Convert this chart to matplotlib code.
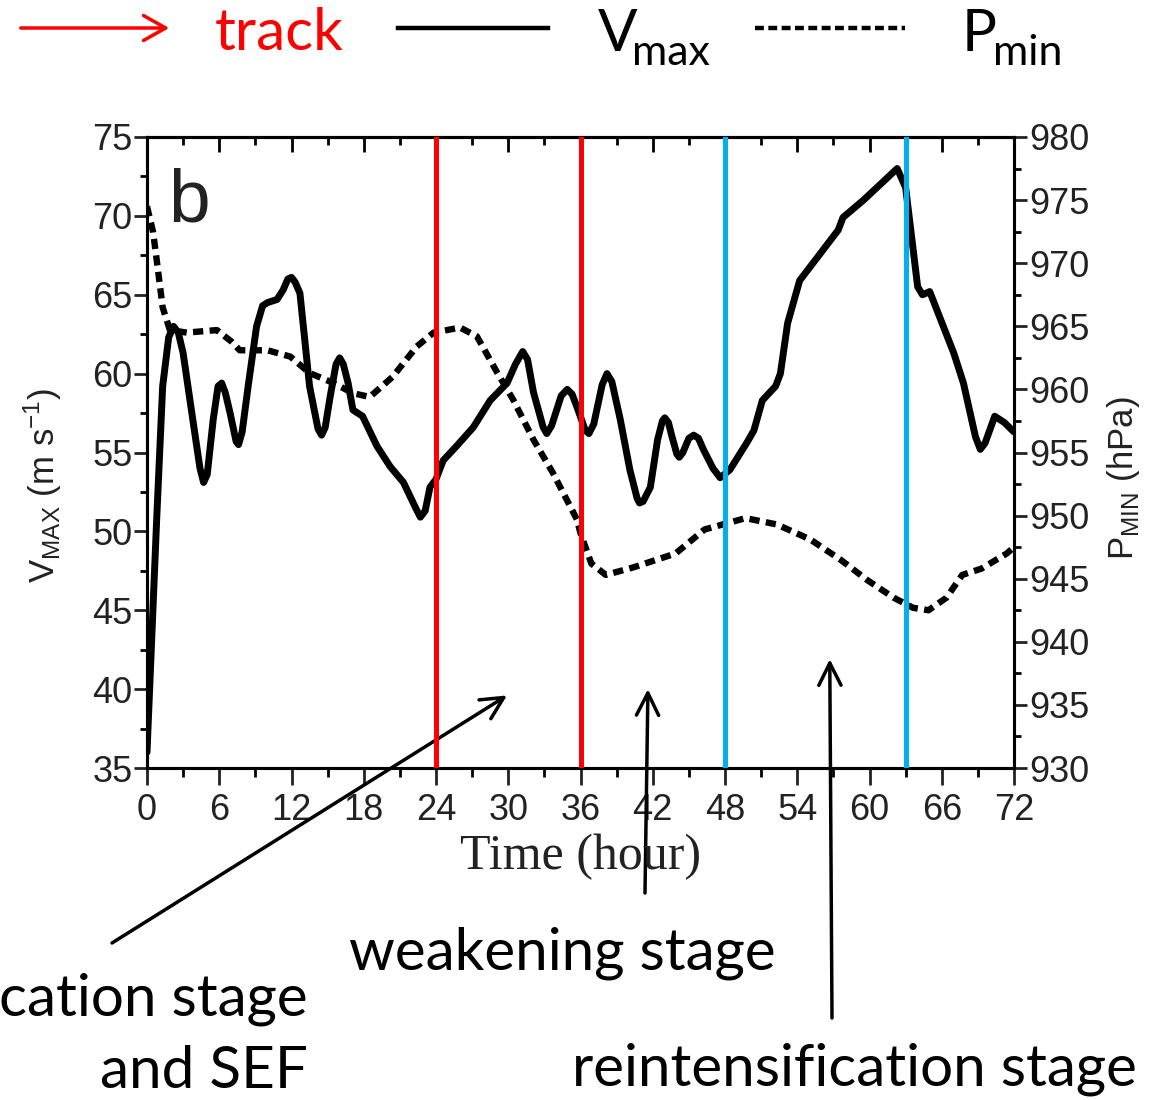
import numpy as np
import matplotlib
matplotlib.use('Agg')
import matplotlib.pyplot as plt
from matplotlib.lines import Line2D
from matplotlib.patches import FancyArrowPatch
from matplotlib.ticker import MultipleLocator

W, H = 1173, 1100

# Vmax (m/s)
t_vmax = [0.0, 0.8, 1.3, 1.8, 2.2, 2.6, 3.0, 3.8, 4.4, 4.7, 5.0, 5.5, 5.9, 6.2, 6.5,
          6.9, 7.4, 7.6, 7.9, 8.4, 9.1, 9.6, 10.0, 10.8, 11.3, 11.7, 12.0, 12.3,
          12.7, 13.5, 14.2, 14.5, 14.8, 15.2, 15.7, 16.0, 16.3, 16.7, 17.1, 17.9,
          19.1, 20.2, 21.3, 22.3, 22.7, 23.1, 23.5, 24.0, 24.6, 25.7, 27.1, 28.5,
          29.9, 30.6, 31.2, 31.6, 32.1, 32.9, 33.2, 33.6, 34.4, 34.9, 35.3, 35.7,
          36.4, 36.7, 37.1, 37.8, 38.2, 38.6, 39.3, 40.1, 40.7, 40.9, 41.2, 41.8,
          42.4, 42.8, 43.0, 43.3, 43.6, 44.0, 44.2, 44.5, 45.0, 45.4, 45.8, 46.2,
          47.0, 47.6, 48.4, 49.8, 50.4, 51.1, 52.2, 52.6, 53.2, 54.2, 55.9, 57.4,
          57.8, 59.5, 60.9, 62.3, 63.0, 64.0, 64.4, 65.0, 67.0, 67.8, 68.8, 69.2,
          69.6, 70.4, 71.2, 72.0]
vmax = [36.0, 50.7, 59.2, 62.3, 63.0, 62.6, 61.3, 57.1, 54.0, 53.1, 53.6, 57.1,
        59.2, 59.4, 58.8, 57.5, 55.7, 55.5, 56.3, 59.2, 63.0, 64.3, 64.5, 64.7,
        65.3, 66.0, 66.1, 65.8, 65.1, 59.2, 56.5, 56.1, 56.6, 58.5, 60.6, 61.0,
        60.6, 59.4, 57.7, 57.3, 55.4, 54.1, 53.1, 51.5, 50.9, 51.3, 52.8, 53.3,
        54.5, 55.4, 56.6, 58.3, 59.4, 60.6, 61.4, 60.9, 58.8, 56.6, 56.2, 56.7,
        58.6, 59.0, 58.7, 57.9, 56.4, 56.2, 56.8, 59.3, 60.0, 59.5, 57.1, 53.9,
        52.1, 51.8, 51.9, 52.8, 55.8, 57.0, 57.2, 56.9, 56.0, 54.9, 54.7, 55.0,
        55.9, 56.1, 55.9, 55.2, 54.0, 53.4, 53.9, 55.6, 56.4, 58.3, 59.2, 60.0,
        63.2, 65.9, 67.6, 69.1, 69.9, 71.0, 72.0, 73.0, 71.8, 65.5, 65.0, 65.2,
        61.3, 59.4, 56.0, 55.2, 55.6, 57.3, 56.9, 56.3]

# Pmin (hPa)
t_pmin = [0.0, 0.5, 0.8, 1.3, 1.9, 3.3, 5.8, 7.0, 7.7, 10.0, 11.9, 13.5, 15.5,
          17.1, 18.5, 20.4, 22.4, 23.8, 26.0, 27.4, 29.1, 30.4, 32.1, 33.7, 35.7,
          36.0, 36.9, 38.1, 40.4, 43.9, 46.3, 48.2, 49.7, 52.3, 55.1, 57.6, 59.8,
          62.0, 63.6, 64.9, 66.4, 67.7, 69.3, 71.4, 72.0]
pmin = [974.5, 972.5, 970.3, 966.5, 964.7, 964.5, 964.7, 963.8, 963.1, 963.1,
        962.6, 961.3, 960.5, 959.7, 959.4, 961.0, 963.4, 964.5, 964.9, 964.2,
        961.3, 959.2, 956.0, 953.4, 949.7, 948.6, 946.2, 945.3, 945.9, 947.0,
        948.9, 949.4, 949.8, 949.3, 948.1, 946.5, 944.9, 943.5, 942.7, 942.5,
        943.5, 945.3, 945.8, 947.0, 947.5]

track_times = [24, 36]
rein_times = [48, 63]
x_ticks = np.arange(0, 73, 6)
v_ticks = np.arange(35, 76, 5)
p_ticks = np.arange(930, 981, 5)

plt.rcParams['font.family'] = ['Liberation Sans', 'DejaVu Sans']
plt.rcParams['mathtext.fontset'] = 'custom'
plt.rcParams['mathtext.rm'] = 'Liberation Sans'


def fx(px):
    return px / W


def fy(py):
    return 1 - py / H


fig = plt.figure(figsize=(W / 100, H / 100), dpi=100)
ax = fig.add_axes([fx(147), fy(768), (1014 - 147) / W, (768 - 137) / H])
ax2 = ax.twinx()

ax.plot(t_vmax, vmax, color='black', lw=5, solid_joinstyle='round',
        solid_capstyle='round', zorder=3)
ax2.plot(t_pmin, pmin, color='black', lw=4.6, dashes=(1.6, 1.0), zorder=3)
for t in track_times:
    ax2.axvline(t, color='#FF0000', lw=3.6, zorder=5)
for t in rein_times:
    ax2.axvline(t, color='#00B0F0', lw=3.6, zorder=5)

ax.set_xlim(0, 72)
ax.set_ylim(35, 75)
ax2.set_ylim(930, 980)
ax.set_xticks(x_ticks)
ax.xaxis.set_minor_locator(MultipleLocator(3))
ax.set_yticks(v_ticks)
ax.yaxis.set_minor_locator(MultipleLocator(2.5))
ax2.set_yticks(p_ticks)
ax2.yaxis.set_minor_locator(MultipleLocator(2.5))

for a in (ax, ax2):
    for sp in a.spines.values():
        sp.set_linewidth(2.2)

ax.tick_params(axis='x', which='major', direction='out', length=12, width=2,
               labelsize=26, pad=6, top=False, colors='#222222')
ax.tick_params(axis='x', which='minor', direction='out', length=6.5, width=2, top=False)
ax.tick_params(axis='y', which='major', direction='out', length=9.5, width=2,
               labelsize=26, pad=1, right=False, colors='#222222')
ax.tick_params(axis='y', which='minor', direction='out', length=5, width=2, right=False)
ax2.tick_params(axis='y', which='major', direction='out', length=9, width=2,
                labelsize=26, pad=2, colors='#222222')
ax2.tick_params(axis='y', which='minor', direction='out', length=5, width=2)

top = ax.secondary_xaxis('top')
top.set_xticks(x_ticks)
top.xaxis.set_minor_locator(MultipleLocator(3))
top.tick_params(axis='x', which='major', direction='in', length=11, width=2, labeltop=False)
top.tick_params(axis='x', which='minor', direction='in', length=6, width=2)
top.spines['top'].set_linewidth(2.2)

fig.text(fx(168), fy(221), 'b', fontsize=54, color='#222222', va='baseline')
fig.text(fx(43), fy(485), r'V$_{\mathregular{MAX}}$ (m s$^{\mathregular{-1}}$)',
         rotation=90, fontsize=25, color='#222222', ha='center', va='center')
fig.text(fx(1124), fy(478), r'P$_{\mathregular{MIN}}$ (hPa)',
         rotation=90, fontsize=25, color='#222222', ha='center', va='center')
fig.text(fx(581), fy(857), 'Time (hour)', family='Liberation Serif',
         fontsize=36, color='#222222', ha='center', va='center')

# legend row at the top
fig.add_artist(FancyArrowPatch((fx(18), fy(28)), (fx(172), fy(28)),
                               transform=fig.transFigure, color='#FF0000', lw=2.5,
                               arrowstyle='->,head_length=0.8,head_width=0.45',
                               mutation_scale=20))
fig.add_artist(Line2D([fx(398), fx(548)], [fy(28), fy(28)], transform=fig.transFigure,
                      color='black', lw=3.2))
fig.add_artist(Line2D([fx(755), fx(905)], [fy(28), fy(28)], transform=fig.transFigure,
                      color='black', lw=3.2, dashes=(2.0, 1.0)))
lab = dict(family='Lato', va='baseline')
fig.text(fx(215), fy(50), 'track', color='#FF0000', fontsize=42, **lab)
fig.text(fx(598), fy(51), 'V', color='black', fontsize=42, **lab)
fig.text(fx(632), fy(65), 'max', color='black', fontsize=31, **lab)
fig.text(fx(962), fy(51), 'P', color='black', fontsize=42, **lab)
fig.text(fx(993), fy(65), 'min', color='black', fontsize=31, **lab)

# stage labels and arrows
fig.text(fx(308), fy(1015), 'cation stage', fontsize=42, ha='right', **lab)
fig.text(fx(308), fy(1088), 'and SEF', fontsize=42, ha='right', **lab)
fig.text(fx(562), fy(970), 'weakening stage', fontsize=42, ha='center', **lab)
fig.text(fx(854), fy(1085), 'reintensification stage', fontsize=42, ha='center', **lab)

arrow_kw = dict(arrowstyle='->,head_length=0.8,head_width=0.4', lw=2.5,
                color='black', shrinkA=0, shrinkB=0, mutation_scale=20)
for head, tail in [((29.9, 39.6), (112, 157)),
                   ((41.6, 40.0), (645, 207)),
                   ((56.7, 41.9), (832, 82))]:
    ax2.annotate('', xy=head, xycoords=ax.transData, xytext=tail,
                 textcoords='figure pixels', arrowprops=arrow_kw,
                 annotation_clip=False)

fig.savefig('out.png', dpi=100)
